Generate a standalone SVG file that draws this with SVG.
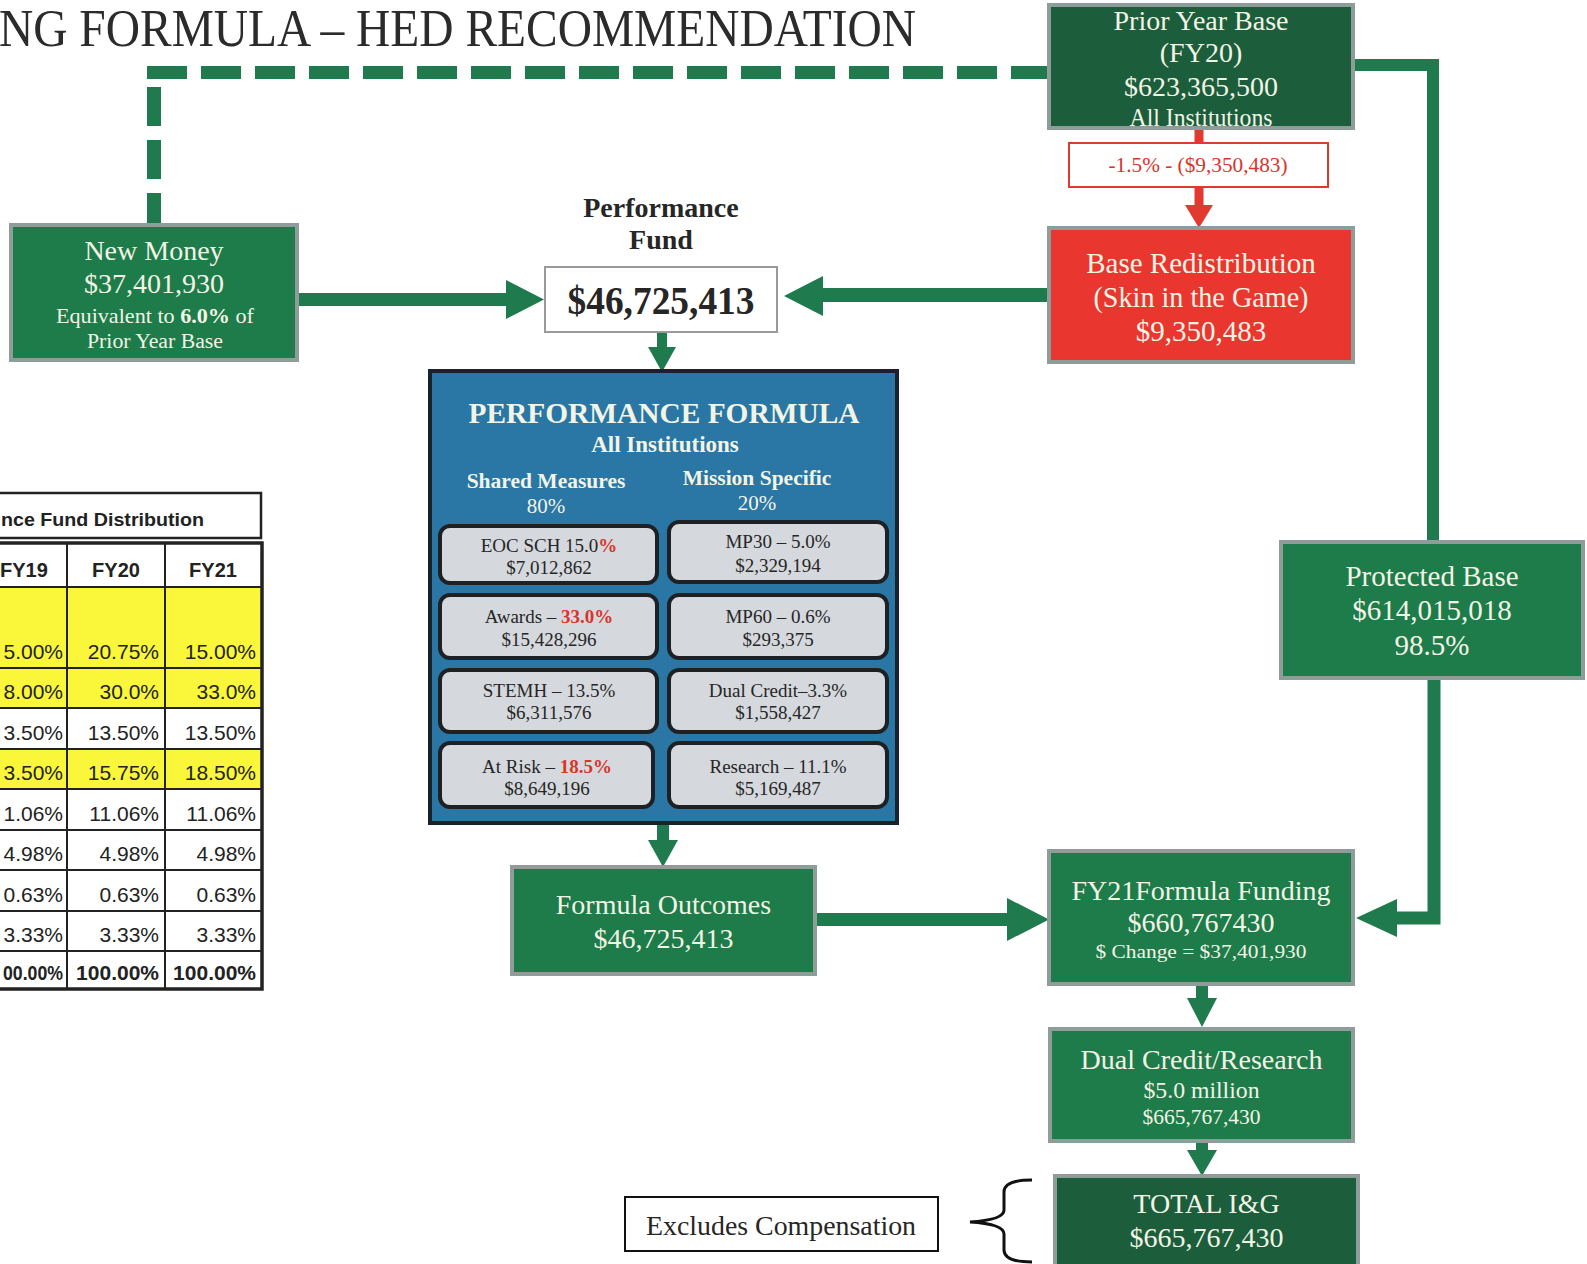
<svg xmlns="http://www.w3.org/2000/svg" width="1587" height="1264" viewBox="0 0 1587 1264">
<style>
.serif{font-family:"Liberation Serif","Times New Roman",serif}
.sans{font-family:"Liberation Sans",Arial,sans-serif}
.lt{fill:#f2f4e6;text-anchor:middle}
.dk{fill:#262626}
.mid{text-anchor:middle}
.end{text-anchor:end}
.b{font-weight:bold}
.red{fill:#d8352b}
.gbox{fill:#1e7b4a;stroke:#8e9c9a;stroke-width:4}
.dgbox{fill:#1c5d3b;stroke:#8e9c9a;stroke-width:4}
.rbox{fill:#e9372f;stroke:#8e9c9a;stroke-width:4}
.cell{fill:#d5d8dc;stroke:#1e2124;stroke-width:4}
.conn{fill:#1f7b4d}
.cline{fill:none;stroke:#1f7b4d}
.rconn{fill:#e23a31}
.grid{stroke:#222;stroke-width:2;fill:none}
.yel{fill:#faf73a}
.val{font-size:21px;fill:#222;text-anchor:end}
.hdr{font-size:20px;font-weight:bold;fill:#222;text-anchor:middle}
</style>
<rect width="1587" height="1264" fill="#ffffff"/>

<!-- page heading -->
<text class="serif" x="-1" y="46" font-size="52" fill="#2b2b2b" textLength="917" lengthAdjust="spacingAndGlyphs">NG FORMULA – HED RECOMMENDATION</text>

<g id="connectors">
  <!-- dashed link: prior year base to new money -->
  <line x1="147" y1="72.5" x2="1049" y2="72.5" class="cline" stroke-width="13" stroke-dasharray="40 14"/>
  <line x1="154" y1="87" x2="154" y2="232" class="cline" stroke-width="14" stroke-dasharray="39 14"/>
  <!-- new money to performance fund -->
  <rect x="295" y="293" width="213" height="13" class="conn"/>
  <polygon points="506,280 544,299.5 506,319" class="conn"/>
  <!-- base redistribution to performance fund -->
  <rect x="821" y="288" width="230" height="14" class="conn"/>
  <polygon points="823,276 784,296 823,316" class="conn"/>
  <!-- performance fund to formula -->
  <rect x="657" y="330" width="10" height="19" class="conn"/>
  <polygon points="648,347 676,347 662,372" class="conn"/>
  <!-- formula to outcomes -->
  <rect x="657" y="823" width="12" height="19" class="conn"/>
  <polygon points="648,840 678,840 663,867" class="conn"/>
  <!-- outcomes to FY21 funding -->
  <rect x="813" y="913" width="196" height="13" class="conn"/>
  <polygon points="1007,898 1049,919.5 1007,941" class="conn"/>
  <!-- prior year base to protected base -->
  <path d="M1351 65 H1433 V544" class="cline" stroke-width="12"/>
  <!-- protected base to FY21 funding -->
  <path d="M1434 677 V918 H1395" class="cline" stroke-width="13"/>
  <polygon points="1397,899 1356,918 1397,937" class="conn"/>
  <!-- FY21 funding to dual credit -->
  <rect x="1196" y="982" width="12" height="18" class="conn"/>
  <polygon points="1187,998 1217,998 1202,1027" class="conn"/>
  <!-- dual credit to total -->
  <rect x="1196" y="1139" width="12" height="13" class="conn"/>
  <polygon points="1187,1150 1217,1150 1202,1176" class="conn"/>
  <!-- base cut -->
  <rect x="1194.5" y="127" width="9" height="18" class="rconn"/>
  <rect x="1194.5" y="185" width="9" height="22" class="rconn"/>
  <polygon points="1185,205 1213,205 1199,228" class="rconn"/>
  <!-- brace -->
  <path d="M1032 1180 Q1004 1180 1004 1192 V1210 Q1004 1220 970 1222 Q1004 1224 1004 1234 V1250 Q1004 1262 1032 1262" stroke="#111" stroke-width="3" fill="none"/>
</g>

<g id="prior-year-base">
  <rect x="1049" y="5" width="304" height="123" class="dgbox"/>
  <text class="serif lt" font-size="28" x="1201" y="30">Prior Year Base</text>
  <text class="serif lt" font-size="28" x="1201" y="62">(FY20)</text>
  <text class="serif lt" font-size="28" x="1201" y="96">$623,365,500</text>
  <text class="serif lt" font-size="26" x="1201" y="126" textLength="143" lengthAdjust="spacingAndGlyphs">All Institutions</text>
</g>

<g id="cut-label">
  <rect x="1069" y="143" width="259" height="44" fill="#fff" stroke="#e0392f" stroke-width="2"/>
  <text class="serif red mid" font-size="20" x="1198" y="172" textLength="179" lengthAdjust="spacingAndGlyphs">-1.5% - ($9,350,483)</text>
</g>

<g id="base-redistribution">
  <rect x="1049" y="228" width="304" height="134" class="rbox"/>
  <text class="serif lt" font-size="29" x="1201" y="273">Base Redistribution</text>
  <text class="serif lt" font-size="29" x="1201" y="307" textLength="215" lengthAdjust="spacingAndGlyphs">(Skin in the Game)</text>
  <text class="serif lt" font-size="29" x="1201" y="341">$9,350,483</text>
</g>

<g id="new-money">
  <rect x="11" y="225" width="286" height="135" class="gbox"/>
  <text class="serif lt" font-size="28" x="154" y="260">New Money</text>
  <text class="serif lt" font-size="28" x="154" y="293">$37,401,930</text>
  <text class="serif lt" font-size="21" x="155" y="323" textLength="198" lengthAdjust="spacingAndGlyphs">Equivalent to <tspan font-weight="bold">6.0%</tspan> of</text>
  <text class="serif lt" font-size="20" x="155" y="348" textLength="136" lengthAdjust="spacingAndGlyphs">Prior Year Base</text>
</g>

<g id="performance-fund">
  <text class="serif dk mid b" font-size="28" x="661" y="217">Performance</text>
  <text class="serif dk mid b" font-size="28" x="661" y="249">Fund</text>
  <rect x="545" y="267" width="232" height="65" fill="#fff" stroke="#9a9a9a" stroke-width="2"/>
  <text class="serif dk mid b" font-size="41" x="661" y="314" textLength="187" lengthAdjust="spacingAndGlyphs">$46,725,413</text>
</g>

<g id="performance-formula">
  <rect x="430" y="371" width="467" height="452" fill="#2a76a4" stroke="#18222c" stroke-width="4"/>
  <text class="serif lt b" font-size="29" x="664" y="423" textLength="391" lengthAdjust="spacingAndGlyphs">PERFORMANCE FORMULA</text>
  <text class="serif lt b" font-size="23" x="665" y="452">All Institutions</text>
  <text class="serif lt b" font-size="21.5" x="546" y="488">Shared Measures</text>
  <text class="serif lt" font-size="21" x="546" y="513">80%</text>
  <text class="serif lt b" font-size="21.5" x="757" y="485">Mission Specific</text>
  <text class="serif lt" font-size="21" x="757" y="510">20%</text>

  <g class="serif" font-size="19" fill="#262626" text-anchor="middle">
    <rect x="440" y="526" width="217" height="57" rx="10" class="cell"/>
    <text x="549" y="552">EOC SCH 15.0<tspan class="red b">%</tspan></text>
    <text x="549" y="574">$7,012,862</text>
    <rect x="440" y="595" width="217" height="63" rx="10" class="cell"/>
    <text x="549" y="623">Awards – <tspan class="red b">33.0%</tspan></text>
    <text x="549" y="646">$15,428,296</text>
    <rect x="440" y="670" width="217" height="62" rx="10" class="cell"/>
    <text x="549" y="697">STEMH – 13.5%</text>
    <text x="549" y="719">$6,311,576</text>
    <rect x="440" y="743" width="213" height="64" rx="10" class="cell"/>
    <text x="547" y="773">At Risk – <tspan class="red b">18.5%</tspan></text>
    <text x="547" y="795">$8,649,196</text>

    <rect x="669" y="522" width="218" height="60" rx="10" class="cell"/>
    <text x="778" y="548">MP30 – 5.0%</text>
    <text x="778" y="572">$2,329,194</text>
    <rect x="669" y="595" width="218" height="63" rx="10" class="cell"/>
    <text x="778" y="623">MP60 – 0.6%</text>
    <text x="778" y="646">$293,375</text>
    <rect x="669" y="670" width="218" height="62" rx="10" class="cell"/>
    <text x="778" y="697">Dual Credit–3.3%</text>
    <text x="778" y="719">$1,558,427</text>
    <rect x="669" y="743" width="218" height="64" rx="10" class="cell"/>
    <text x="778" y="773">Research – 11.1%</text>
    <text x="778" y="795">$5,169,487</text>
  </g>
</g>

<g id="formula-outcomes">
  <rect x="512" y="867" width="303" height="107" class="gbox"/>
  <text class="serif lt" font-size="28" x="663.5" y="914">Formula Outcomes</text>
  <text class="serif lt" font-size="28" x="663.5" y="948">$46,725,413</text>
</g>

<g id="fy21-formula-funding">
  <rect x="1049" y="851" width="304" height="133" class="gbox"/>
  <text class="serif lt" font-size="28" x="1201" y="900">FY21Formula Funding</text>
  <text class="serif lt" font-size="28" x="1201" y="932">$660,767430</text>
  <text class="serif lt" font-size="19" x="1201" y="958" textLength="211" lengthAdjust="spacingAndGlyphs">$ Change = $37,401,930</text>
</g>

<g id="protected-base">
  <rect x="1281" y="542" width="302" height="136" class="gbox"/>
  <text class="serif lt" font-size="29" x="1432" y="586">Protected Base</text>
  <text class="serif lt" font-size="29" x="1432" y="620">$614,015,018</text>
  <text class="serif lt" font-size="29" x="1432" y="655">98.5%</text>
</g>

<g id="dual-credit-research">
  <rect x="1050" y="1029" width="303" height="112" class="gbox"/>
  <text class="serif lt" font-size="28" x="1201.5" y="1069">Dual Credit/Research</text>
  <text class="serif lt" font-size="23" x="1201.5" y="1098" textLength="116" lengthAdjust="spacingAndGlyphs">$5.0 million</text>
  <text class="serif lt" font-size="21.5" x="1201.5" y="1124" textLength="118" lengthAdjust="spacingAndGlyphs">$665,767,430</text>
</g>

<g id="total-ig">
  <rect x="1055" y="1176" width="303" height="92" class="dgbox"/>
  <text class="serif lt" font-size="28" x="1206.5" y="1213">TOTAL I&amp;G</text>
  <text class="serif lt" font-size="28" x="1206.5" y="1247">$665,767,430</text>
</g>

<g id="excludes-note">
  <rect x="625" y="1197" width="313" height="54" fill="#fff" stroke="#111" stroke-width="2"/>
  <text class="serif dk mid" font-size="28" x="781" y="1235" textLength="270" lengthAdjust="spacingAndGlyphs">Excludes Compensation</text>
</g>

<g id="distribution-table" class="sans">
  <rect x="-5" y="493" width="266" height="45" fill="#fff" stroke="#222" stroke-width="2.5"/>
  <text x="1" y="526" font-weight="bold" font-size="18" fill="#222" textLength="203" lengthAdjust="spacingAndGlyphs">nce Fund Distribution</text>
  <rect x="-5" y="587" width="267" height="81" class="yel"/>
  <rect x="-5" y="668" width="267" height="40" class="yel"/>
  <rect x="-5" y="749" width="267" height="40" class="yel"/>
  <rect x="-5" y="543" width="267" height="446" fill="none" stroke="#222" stroke-width="3.5"/>
  <path class="grid" d="M-5 587H262M-5 668H262M-5 708H262M-5 749H262M-5 789H262M-5 830H262M-5 870H262M-5 911H262M-5 951H262M67 543V989M165 543V989"/>
  <text class="hdr" x="0" y="577" style="text-anchor:start">FY19</text>
  <text class="hdr" x="116" y="577">FY20</text>
  <text class="hdr" x="213" y="577">FY21</text>

  <text class="val" x="63" y="659">5.00%</text><text class="val" x="159" y="659">20.75%</text><text class="val" x="256" y="659">15.00%</text>
  <text class="val" x="63" y="699">8.00%</text><text class="val" x="159" y="699">30.0%</text><text class="val" x="256" y="699">33.0%</text>
  <text class="val" x="63" y="740">3.50%</text><text class="val" x="159" y="740">13.50%</text><text class="val" x="256" y="740">13.50%</text>
  <text class="val" x="63" y="780">3.50%</text><text class="val" x="159" y="780">15.75%</text><text class="val" x="256" y="780">18.50%</text>
  <text class="val" x="63" y="821">1.06%</text><text class="val" x="159" y="821">11.06%</text><text class="val" x="256" y="821">11.06%</text>
  <text class="val" x="63" y="861">4.98%</text><text class="val" x="159" y="861">4.98%</text><text class="val" x="256" y="861">4.98%</text>
  <text class="val" x="63" y="902">0.63%</text><text class="val" x="159" y="902">0.63%</text><text class="val" x="256" y="902">0.63%</text>
  <text class="val" x="63" y="942">3.33%</text><text class="val" x="159" y="942">3.33%</text><text class="val" x="256" y="942">3.33%</text>
  <text class="val" x="63" y="980" font-weight="bold" textLength="60" lengthAdjust="spacingAndGlyphs">00.00%</text><text class="val" x="159" y="980" font-weight="bold">100.00%</text><text class="val" x="256" y="980" font-weight="bold">100.00%</text>
</g>
</svg>
